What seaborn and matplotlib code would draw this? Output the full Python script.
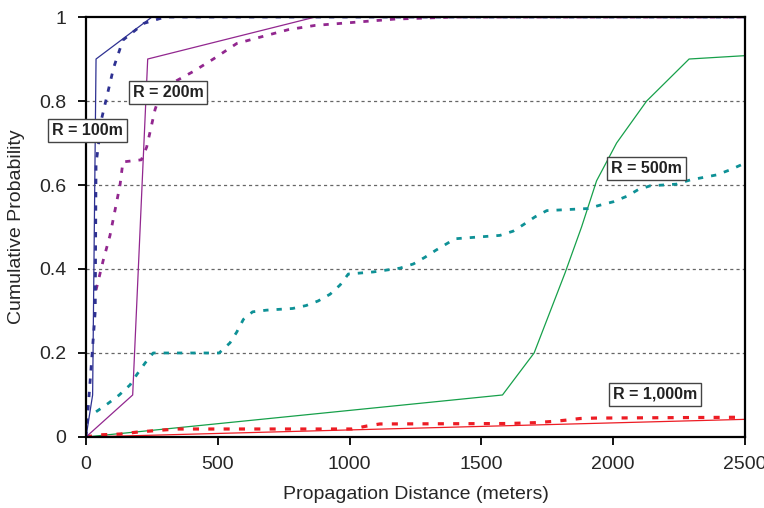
import numpy as np
import pandas as pd
import seaborn as sns
import matplotlib.pyplot as plt
from matplotlib import font_manager

# cumulative probability vs propagation distance, per deployment radius
# solid = one curve, dotted = the other

r100_solid_x = [0, 25, 38, 250, 2500]
r100_solid_y = [0, 0.1, 0.9, 1.0, 1.0]
r100_dash_x = [0, 35, 38, 60, 75, 105, 140, 220, 300, 2500]
r100_dash_y = [0, 0.3, 0.65, 0.76, 0.8, 0.88, 0.945, 0.985, 1.0, 1.0]

r200_solid_x = [0, 177, 234, 870, 2500]
r200_solid_y = [0, 0.1, 0.9, 1.0, 1.0]
r200_dash_x = [38, 65, 91, 110, 129, 140, 210, 230, 262, 290, 406, 483, 572,
               666, 768, 869, 970, 1170, 1400, 2500]
r200_dash_y = [0.35, 0.42, 0.48, 0.54, 0.6, 0.655, 0.66, 0.69, 0.78, 0.83,
               0.87, 0.9, 0.937, 0.953, 0.97, 0.98, 0.985, 0.995, 1.0, 1.0]

r500_solid_x = [0, 1580, 1700, 1817, 1880, 1937, 2013, 2127, 2288, 2500]
r500_solid_y = [0, 0.1, 0.2, 0.39, 0.5, 0.61, 0.7, 0.8, 0.9, 0.908]
r500_dash_x = [38, 84, 126, 167, 192, 224, 255, 505, 546, 572, 597, 632, 685,
               784, 835, 881, 926, 964, 995, 1090, 1191, 1242, 1286, 1328,
               1400, 1570, 1620, 1658, 1703, 1748, 1905, 1950, 2000, 2051,
               2095, 2140, 2240, 2292, 2392, 2443, 2500]
r500_dash_y = [0.06, 0.08, 0.1, 0.124, 0.148, 0.176, 0.2, 0.2, 0.224, 0.25,
               0.28, 0.298, 0.302, 0.306, 0.313, 0.324, 0.34, 0.362, 0.388,
               0.393, 0.402, 0.412, 0.428, 0.445, 0.472, 0.48, 0.49, 0.505,
               0.524, 0.539, 0.544, 0.552, 0.56, 0.573, 0.589, 0.598, 0.602,
               0.612, 0.624, 0.636, 0.652]

r1000_solid_x = [0, 2500]
r1000_solid_y = [0, 0.042]
r1000_dash_x = [0, 50, 130, 200, 300, 350, 1010, 1065, 1115, 1600, 1700,
                1770, 1820, 1875, 1930, 2500]
r1000_dash_y = [0, 0.005, 0.007, 0.012, 0.017, 0.019, 0.019, 0.026, 0.031,
                0.032, 0.034, 0.037, 0.04, 0.044, 0.045, 0.047]

labels = ["R = 100m", "R = 200m", "R = 500m", "R = 1,000m"]
label_x = [5, 311, 2128, 2158]
label_y = [0.73, 0.82, 0.64, 0.102]

colors = ["#2e3192", "#92278f", "#0e9196", "#16a04a", "#ed1c24"]

sns.set_style("white")
installed = {f.name for f in font_manager.fontManager.ttflist}
fam = "Liberation Sans Narrow" if "Liberation Sans Narrow" in installed else "Liberation Sans"
plt.rcParams["font.family"] = [fam, "DejaVu Sans"]

fig = plt.figure(figsize=(7.64, 5.08), dpi=100)
ax = fig.add_axes([0.1126, 0.1398, 0.9751 - 0.1126, 0.9665 - 0.1398])

for yv in [0.2, 0.4, 0.6, 0.8]:
    ax.axhline(yv, color="#666666", lw=0.9, ls=(0, (2.5, 2.5)), zorder=0)


def draw(xs, ys, color, dashed, lw=2.0):
    d = pd.DataFrame({"x": xs, "y": ys})
    if dashed:
        sns.lineplot(data=d, x="x", y="y", ax=ax, color=color, lw=lw,
                     estimator=None, sort=False, dashes=False,
                     linestyle=(0, (1.9, 2.9)))
    else:
        sns.lineplot(data=d, x="x", y="y", ax=ax, color=color, lw=0.9,
                     estimator=None, sort=False)


draw(r500_solid_x, r500_solid_y, colors[3], False)
draw(r1000_solid_x, r1000_solid_y, colors[4], False)
draw(r1000_dash_x, r1000_dash_y, colors[4], True, lw=2.3)
draw(r500_dash_x, r500_dash_y, colors[2], True)
draw(r200_solid_x, r200_solid_y, colors[1], False)
draw(r200_dash_x, r200_dash_y, colors[1], True)
draw(r100_solid_x, r100_solid_y, colors[0], False)
draw(r100_dash_x, r100_dash_y, colors[0], True)

for t, xv, yv in zip(labels, label_x, label_y):
    ax.text(xv, yv, t, ha="center", va="center", fontsize=11.5,
            fontweight="bold", color="#222222", zorder=5, clip_on=False,
            bbox=dict(boxstyle="square,pad=0.25", fc="white", ec="#444444", lw=1.0))

ax.set_xlim(0, 2500)
ax.set_ylim(0, 1)
ax.set_xticks([0, 500, 1000, 1500, 2000, 2500])
ax.set_yticks([0, 0.2, 0.4, 0.6, 0.8, 1.0])
ax.set_yticklabels(["0", "0.2", "0.4", "0.6", "0.8", "1"])
ax.tick_params(axis="both", direction="out", length=6, width=1.3,
               labelsize=14, color="black", pad=8, left=True, bottom=True)
for s in ax.spines.values():
    s.set_color("black")
    s.set_linewidth(1.6)

ax.set_xlabel("Propagation Distance (meters)", fontsize=14, labelpad=9)
ax.set_ylabel("Cumulative Probability", fontsize=14, labelpad=10)

fig.savefig("out.png", dpi=100)
